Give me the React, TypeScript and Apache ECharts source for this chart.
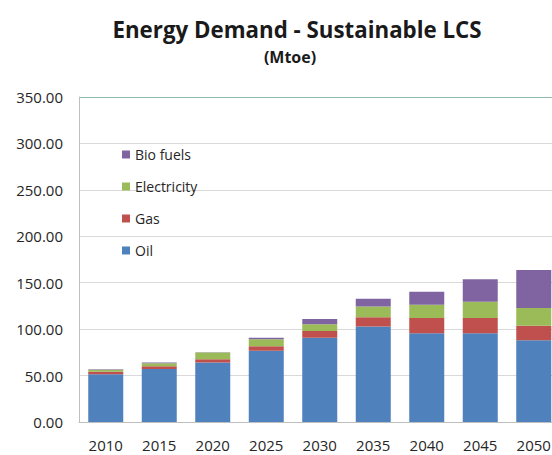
import React, { useEffect, useRef } from "react";
import * as echarts from "echarts";

const years = ["2010", "2015", "2020", "2025", "2030", "2035", "2040", "2045", "2050"];
const oil = [51.5, 57.0, 64.0, 76.7, 90.8, 102.8, 95.5, 95.5, 88.0];
const gas = [2.6, 3.1, 3.7, 5.0, 7.2, 10.0, 16.5, 16.4, 15.6];
const electricity = [2.2, 3.3, 7.2, 7.3, 7.2, 11.5, 14.2, 17.6, 19.3];
const bioFuels = [0.5, 0.6, 0.3, 1.8, 5.7, 8.3, 14.2, 24.1, 40.7];
const yTicks = { min: 0, max: 350, interval: 50 };

const COLORS = { oil: "#4F81BD", gas: "#C0504D", elec: "#9BBB59", bio: "#8064A2" };
const FONT = "Open Sans";

export default function App() {
  const ref = useRef<HTMLDivElement>(null);
  useEffect(() => {
    if (!ref.current) return;
    const chart = echarts.init(ref.current, undefined, { renderer: "svg" });
    const mk = (name: string, data: number[], color: string) => ({
      name,
      type: "bar",
      stack: "total",
      data,
      barWidth: 35,
      itemStyle: { color },
      emphasis: { disabled: true },
    });
    chart.setOption({
      animation: false,
      textStyle: { fontFamily: FONT },
      graphic: [
        {
          type: "text",
          x: 297,
          y: 29,
          style: {
            text: "Energy Demand - Sustainable LCS",
            font: `bold 22.3px '${FONT}'`,
            fill: "#1a1a1a",
            textAlign: "center",
            textVerticalAlign: "middle",
          },
        },
        {
          type: "text",
          x: 290,
          y: 57,
          style: {
            text: "(Mtoe)",
            font: `bold 16px '${FONT}'`,
            fill: "#1a1a1a",
            textAlign: "center",
            textVerticalAlign: "middle",
          },
        },
      ],
      legend: {
        orient: "vertical",
        left: 117,
        top: 140,
        icon: "rect",
        itemWidth: 8,
        itemHeight: 8,
        itemGap: 13,
        data: ["Bio fuels", "Electricity", "Gas", "Oil"],
        textStyle: { fontSize: 14, color: "#262626", fontFamily: FONT, lineHeight: 19 },
        selectedMode: false,
      },
      grid: {
        left: 79,
        top: 97,
        width: 481.5,
        height: 325,
        containLabel: false,
        outerBoundsMode: "none",
      },
      xAxis: {
        type: "category",
        data: years,
        axisLine: { show: true, lineStyle: { color: "#bfbfbf", width: 1 } },
        axisTick: { show: false },
        axisLabel: { fontSize: 15, color: "#262626", margin: 15, fontFamily: FONT },
      },
      yAxis: {
        type: "value",
        min: yTicks.min,
        max: yTicks.max,
        interval: yTicks.interval,
        axisLine: { show: true, lineStyle: { color: "#bfbfbf", width: 1 } },
        axisTick: { show: false },
        axisLabel: {
          fontSize: 15,
          color: "#262626",
          margin: 16,
          fontFamily: FONT,
          formatter: (v: number) => v.toFixed(2),
        },
        splitLine: {
          show: true,
          lineStyle: {
            color: ["#d9d9d9", "#d9d9d9", "#d9d9d9", "#d9d9d9", "#d9d9d9", "#d9d9d9", "#d9d9d9", "#8fbcaa"],
            width: 1,
          },
        },
      },
      series: [
        mk("Oil", oil, COLORS.oil),
        mk("Gas", gas, COLORS.gas),
        mk("Electricity", electricity, COLORS.elec),
        mk("Bio fuels", bioFuels, COLORS.bio),
      ],
    });
    return () => chart.dispose();
  }, []);
  return (
    <div
      ref={ref}
      style={{ position: "fixed", left: 0, top: 0, width: 552, height: 455, background: "#fff" }}
    />
  );
}
